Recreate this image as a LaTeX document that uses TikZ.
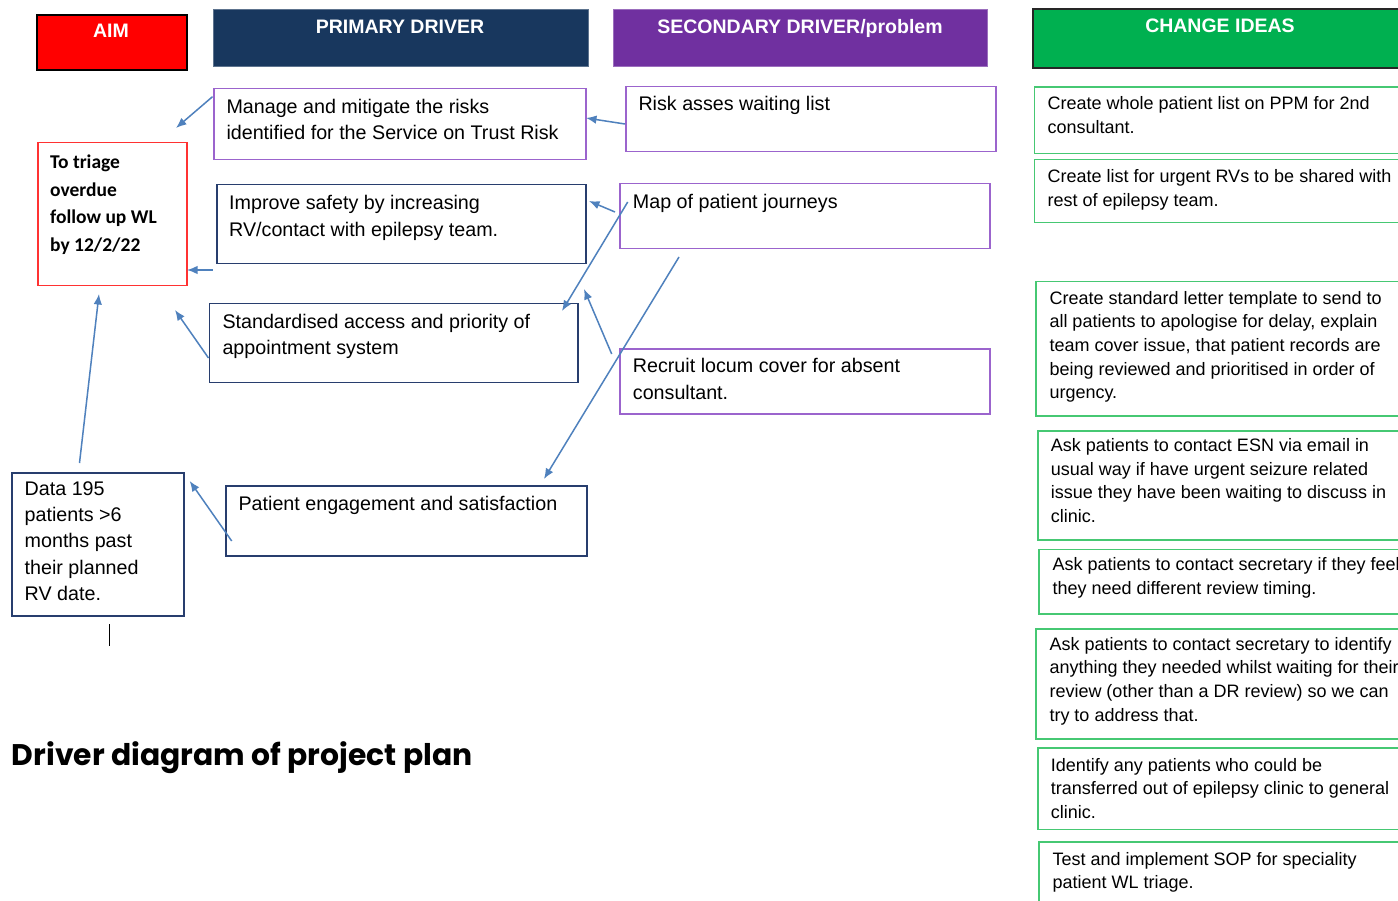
\documentclass[tikz,border=0pt]{standalone}
\usepackage{fontspec}
\setmainfont{Liberation Sans}
\newfontfamily\calfont{Carlito}
\newfontfamily\titlefont{Poppins}
\usetikzlibrary{arrows.meta}
\definecolor{aimred}{RGB}{255,0,0}
\definecolor{pnavy}{RGB}{24,55,94}
\definecolor{spurple}{RGB}{112,48,160}
\definecolor{cgreen}{RGB}{0,176,80}
\definecolor{lpurple}{RGB}{155,100,205}
\definecolor{bnavy}{RGB}{40,62,110}
\definecolor{lgreen}{RGB}{70,200,115}
\definecolor{arrowblue}{RGB}{79,129,189}
\definecolor{aimborder}{RGB}{255,50,50}
\tikzset{
  x=1pt, y=-1pt,
  boxn/.style={draw, line width=1.5pt, inner sep=0pt, anchor=north west, rectangle},
  hdrbox/.style={boxn, line width=1pt},
  hdrtxt/.style={text=white, anchor=base, inner sep=0pt, font=\bfseries\fontsize{19.5}{22}\selectfont},
  bigtxt/.style={anchor=base west, inner sep=0pt, align=left, font=\fontsize{19.7}{26.7}\selectfont},
  datatxt/.style={anchor=base west, inner sep=0pt, align=left, font=\fontsize{19.7}{26.4}\selectfont},
  aimtxt/.style={anchor=base west, inner sep=0pt, align=left, font=\calfont\bfseries\fontsize{19.5}{27.5}\selectfont},
  citxt/.style={anchor=base west, inner sep=0pt, align=left, font=\fontsize{18}{23.7}\selectfont},
  conn/.style={draw=arrowblue, line width=1.5pt, -{Latex[length=10.5pt,width=8.5pt]}},
}
% text nodes are placed at the baseline of their LAST line
\begin{document}
\begin{tikzpicture}
\useasboundingbox (0,0) rectangle (1398,901);
\clip (0,0) rectangle (1398,901);
\fill[white] (0,0) rectangle (1398,901);

% headers
\node[hdrbox, fill=aimred, draw=black, line width=2pt, minimum width=150pt, minimum height=54.7pt] (aimh) at (36,14) {};
\node[hdrtxt] (aimht) at (111,37.3) {AIM};
\node[hdrbox, fill=pnavy, draw=pnavy!70!white, minimum width=375.5pt, minimum height=57pt] (pdh) at (212.5,9) {};
\node[hdrtxt] (pdht) at (400,34) {PRIMARY DRIVER};
\node[hdrbox, fill=spurple, draw=spurple!70!white, minimum width=374pt, minimum height=57pt] (sdh) at (612.7,9) {};
\node[hdrtxt] (sdht) at (800,34) {SECONDARY DRIVER/problem};
\node[hdrbox, fill=cgreen, draw=black!85, line width=2pt, minimum width=380pt, minimum height=59.3pt] (cih) at (1032.3,8) {};
\node[hdrtxt] (ciht) at (1220,32.7) {CHANGE IDEAS};

% aim
\node[boxn, draw=aimborder, minimum width=149pt, minimum height=143pt] (aim) at (37,142) {};
\node[aimtxt] (aimt) at (50,251.5) {To triage\\overdue\\follow up WL\\by 12/2/22};
\node[boxn, draw=bnavy, minimum width=172pt, minimum height=143pt] (data) at (11,472) {};
\node[datatxt] (datat) at (24.5,600.6) {Data 195\\patients >6\\months past\\their planned\\RV date.};

% primary drivers
\node[boxn, draw=lpurple, minimum width=372pt, minimum height=70.7pt] (pd1) at (213,88) {};
\node[bigtxt] (pd1t) at (226.3,140) {Manage and mitigate the risks\\identified for the Service on Trust Risk};
\node[boxn, draw=bnavy, minimum width=369pt, minimum height=79pt] (pd2) at (216,184) {};
\node[bigtxt] (pd2t) at (229,236.2) {Improve safety by increasing\\RV/contact with epilepsy team.};
\node[boxn, draw=bnavy, minimum width=368.5pt, minimum height=78.7pt] (pd3) at (208.5,303) {};
\node[bigtxt] (pd3t) at (222.3,355) {Standardised access and priority of\\appointment system};
\node[boxn, draw=bnavy, minimum width=361pt, minimum height=69.7pt] (pd4) at (225,485.3) {};
\node[bigtxt] (pd4t) at (238.4,510) {Patient engagement and satisfaction};

% secondary drivers
\node[boxn, draw=lpurple, minimum width=370pt, minimum height=65pt] (sd1) at (625,86) {};
\node[bigtxt] (sd1t) at (638.3,111) {Risk asses waiting list};
\node[boxn, draw=lpurple, minimum width=370.3pt, minimum height=65pt] (sd2) at (619,182.7) {};
\node[bigtxt] (sd2t) at (632.7,208.3) {Map of patient journeys};
\node[boxn, draw=lpurple, minimum width=370pt, minimum height=65pt] (sd3) at (619,348.3) {};
\node[bigtxt] (sd3t) at (632.7,399.6) {Recruit locum cover for absent\\consultant.};

% change ideas
\node[boxn, draw=lgreen, minimum width=368.3pt, minimum height=66.4pt] (ci1) at (1033.7,86.3) {};
\node[citxt] (ci1t) at (1047.3,133.7) {Create whole patient list on PPM for 2nd\\consultant.};
\node[boxn, draw=lgreen, minimum width=368.3pt, minimum height=63.3pt] (ci2) at (1033.7,158.7) {};
\node[citxt] (ci2t) at (1047.3,206.4) {Create list for urgent RVs to be shared with\\rest of epilepsy team.};
\node[boxn, draw=lgreen, minimum width=366.7pt, minimum height=134pt] (ci3) at (1035.3,281) {};
\node[citxt] (ci3t) at (1049.3,398.8) {Create standard letter template to send to\\all patients to apologise for delay, explain\\team cover issue, that patient records are\\being reviewed and prioritised in order of\\urgency.};
\node[boxn, draw=lgreen, minimum width=365pt, minimum height=109.3pt] (ci4) at (1037,430) {};
\node[citxt] (ci4t) at (1050.7,522.6) {Ask patients to contact ESN via email in\\usual way if have urgent seizure related\\issue they have been waiting to discuss in\\clinic.};
\node[boxn, draw=lgreen, minimum width=363.7pt, minimum height=64.6pt] (ci5) at (1038.3,548.7) {};
\node[citxt] (ci5t) at (1052.3,594.4) {Ask patients to contact secretary if they feel\\they need different review timing.};
\node[boxn, draw=lgreen, minimum width=366.7pt, minimum height=110pt] (ci6) at (1035.3,628.3) {};
\node[citxt] (ci6t) at (1049.3,721.1) {Ask patients to contact secretary to identify\\anything they needed whilst waiting for their\\review (other than a DR review) so we can\\try to address that.};
\node[boxn, draw=lgreen, minimum width=365pt, minimum height=81.4pt] (ci7) at (1037,747.3) {};
\node[citxt] (ci7t) at (1050.7,818.4) {Identify any patients who could be\\transferred out of epilepsy clinic to general\\clinic.};
\node[boxn, draw=lgreen, minimum width=363.7pt, minimum height=75pt] (ci8) at (1038.3,841) {};
\node[citxt] (ci8t) at (1052.3,888.7) {Test and implement SOP for speciality\\patient WL triage.};

% title
\node[anchor=base west, inner sep=0pt, font=\titlefont\bfseries\fontsize{29.8}{31}\selectfont] (title) at (11.7,765) {Driver diagram of project plan};

% connector end points
\coordinate (a1s) at (212.5,96.7);  \coordinate (a1e) at (176,128);
\coordinate (a2s) at (625,124);     \coordinate (a2e) at (586,118);
\coordinate (a3s) at (615,212);     \coordinate (a3e) at (589,201);
\coordinate (a4s) at (212.5,270);   \coordinate (a4e) at (187,270);
\coordinate (a5s) at (627.7,202);   \coordinate (a5e) at (562,311);
\coordinate (a6s) at (611.7,354);   \coordinate (a6e) at (584,289);
\coordinate (a7s) at (679,257);     \coordinate (a7e) at (544,479);
\coordinate (a8s) at (208.5,358);   \coordinate (a8e) at (175,310);
\coordinate (a9s) at (79.5,463);    \coordinate (a9e) at (99,294);
\coordinate (a10s) at (231.7,541);  \coordinate (a10e) at (189.7,481);
\foreach \i in {1,...,10} {\draw[conn] (a\i s) -- (a\i e);}

% cursor mark
\coordinate (cur1) at (109.4,624); \coordinate (cur2) at (109.4,646);
\draw[line width=1.5pt, black] (cur1) -- (cur2);
\end{tikzpicture}
\end{document}
